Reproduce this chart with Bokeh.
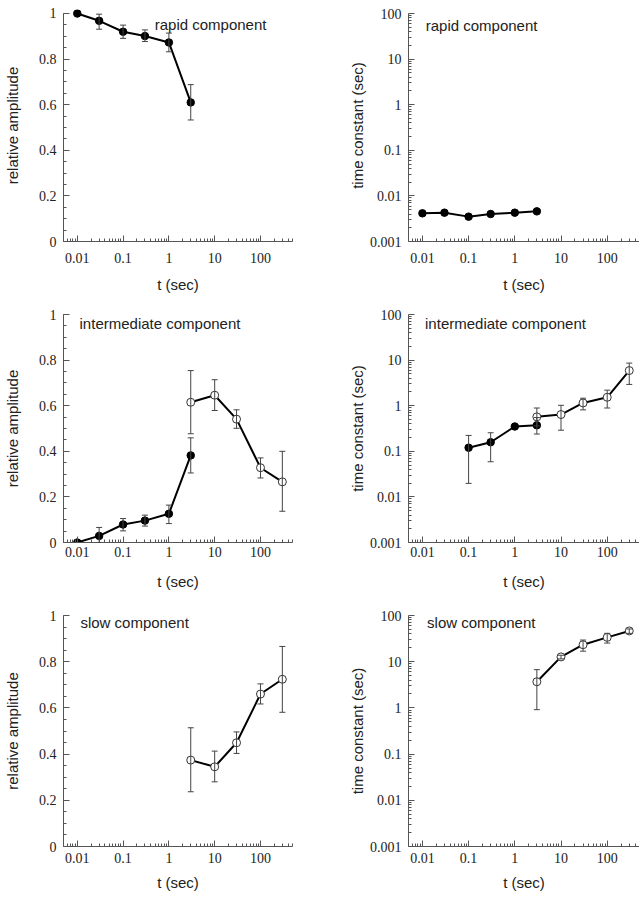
from bokeh.plotting import figure
from bokeh.models import (Range1d, FixedTicker, CustomJSTickFormatter, Whisker,
                          TeeHead, ColumnDataSource, Label)
from bokeh.layouts import column, row
from bokeh.embed import file_html
from bokeh.resources import INLINE

# ---------------- data ----------------
t_early = [0.01, 0.03, 0.1, 0.3, 1, 3]
t_late = [3, 10, 30, 100, 300]
t_int_tau = [0.1, 0.3, 1, 3]

# rapid component
rapid_amp = [1.0, 0.968, 0.920, 0.901, 0.873, 0.610]
rapid_amp_lo = [1.0, 0.931, 0.891, 0.877, 0.832, 0.533]
rapid_amp_hi = [1.0, 0.997, 0.949, 0.928, 0.914, 0.688]
rapid_tau = [0.00415, 0.00429, 0.00351, 0.00401, 0.00429, 0.00458]

# intermediate component
int_amp_closed = [0.0, 0.029, 0.079, 0.096, 0.126, 0.382]
int_amp_closed_lo = [0.0, 0.0, 0.051, 0.072, 0.083, 0.305]
int_amp_closed_hi = [0.0, 0.066, 0.105, 0.120, 0.164, 0.459]
int_amp_open = [0.615, 0.646, 0.541, 0.328, 0.266]
int_amp_open_lo = [0.477, 0.579, 0.501, 0.283, 0.137]
int_amp_open_hi = [0.754, 0.714, 0.582, 0.371, 0.400]
int_tau_closed = [0.12, 0.158, 0.35, 0.372]
int_tau_closed_lo = [0.0198, 0.059, 0.35, 0.239]
int_tau_closed_hi = [0.223, 0.255, 0.35, 0.55]
int_tau_open = [0.57, 0.64, 1.15, 1.53, 5.9]
int_tau_open_lo = [0.36, 0.29, 0.81, 0.89, 2.93]
int_tau_open_hi = [0.89, 1.02, 1.46, 2.19, 8.6]

# slow component
slow_amp = [0.374, 0.345, 0.449, 0.660, 0.724]
slow_amp_lo = [0.237, 0.280, 0.403, 0.617, 0.581]
slow_amp_hi = [0.514, 0.413, 0.496, 0.704, 0.866]
slow_tau = [3.68, 12.7, 23.3, 33.6, 46.3]
slow_tau_lo = [0.916, 11.5, 16.9, 25.3, 41.0]
slow_tau_hi = [6.73, 13.8, 29.4, 41.1, 51.2]

x_major = [0.01, 0.1, 1, 10, 100]
y_log_major = [0.001, 0.01, 0.1, 1, 10, 100]
y_lin_major = [0, 0.2, 0.4, 0.6, 0.8, 1]

AX = "#555555"
TXT = "#222222"

def log_minor(lo, hi):
    out = []
    d = 0.001
    while d < 1000:
        for k in range(2, 10):
            v = round(k * d, 6)
            if lo <= v <= hi:
                out.append(v)
        d *= 10
    return out

fmt = CustomJSTickFormatter(code="return String(Math.round(tick*10000)/10000);")

def make_fig(ylog, w, h, bl, br, bt, bb, xstand, xlstand, ylstand, ytop=None):
    if ylog:
        yr = Range1d(0.001, ytop if ytop else 100)
    else:
        yr = Range1d(0, ytop if ytop else 1)
    p = figure(width=w, height=h, x_axis_type="log",
               y_axis_type="log" if ylog else "linear",
               x_range=Range1d(0.005, 500), y_range=yr,
               output_backend="svg", toolbar_location=None,
               min_border_left=bl, min_border_right=br,
               min_border_top=bt, min_border_bottom=bb)
    p.outline_line_color = None
    p.grid.visible = False
    p.background_fill_color = "white"
    p.border_fill_color = "white"
    p.xaxis.ticker = FixedTicker(ticks=x_major, minor_ticks=log_minor(0.005, 500))
    if ylog:
        p.yaxis.ticker = FixedTicker(ticks=y_log_major, minor_ticks=log_minor(0.001, 100))
        p.yaxis.axis_label = "time constant (sec)"
        p.yaxis.bounds = (0.001, 100)
    else:
        p.yaxis.ticker = FixedTicker(ticks=y_lin_major,
                                     minor_ticks=[i * 0.05 for i in range(21)])
        p.yaxis.axis_label = "relative amplitude"
        p.yaxis.bounds = (0, 1)
    p.xaxis.axis_label = "t (sec)"
    for ax in p.xaxis + p.yaxis:
        ax.formatter = fmt
        ax.axis_line_color = AX
        ax.axis_line_width = 1
        ax.major_tick_in = 6
        ax.major_tick_out = 0
        ax.minor_tick_in = 3
        ax.minor_tick_out = 0
        ax.major_tick_line_color = AX
        ax.minor_tick_line_color = AX
        ax.major_label_text_font = "Liberation Serif"
        ax.major_label_text_font_size = "14px"
        ax.major_label_text_color = TXT
        ax.axis_label_text_font = "Liberation Sans"
        ax.axis_label_text_font_size = "15px"
        ax.axis_label_text_font_style = "normal"
        ax.axis_label_text_color = TXT
    p.xaxis.major_label_standoff = xstand
    p.xaxis.axis_label_standoff = xlstand
    p.yaxis.major_label_standoff = 7
    p.yaxis.axis_label_standoff = ylstand
    return p

def series(p, xs, ys, lo=None, hi=None, filled=True):
    p.line(xs, ys, line_color="black", line_width=2)
    if filled:
        p.scatter(xs, ys, size=7.5, fill_color="black", line_color="black")
    else:
        p.scatter(xs, ys, size=8, fill_color="white", line_color="#333333",
                  line_width=1)
    if lo is not None:
        bx, blo, bhi = [], [], []
        for x, l, h in zip(xs, lo, hi):
            if h > l:
                bx.append(x); blo.append(l); bhi.append(h)
        src = ColumnDataSource(dict(x=bx, lo=blo, hi=bhi))
        wk = Whisker(source=src, base="x", lower="lo", upper="hi",
                     dimension="height", line_color="#444444", line_width=1,
                     upper_head=TeeHead(size=6, line_color="#444444", line_width=1),
                     lower_head=TeeHead(size=6, line_color="#444444", line_width=1),
                     level="annotation")
        p.add_layout(wk)

def title(p, x, y, text):
    p.add_layout(Label(x=x, y=y, text=text, text_font="Liberation Sans",
                       text_font_size="15px", text_color=TXT,
                       text_baseline="middle", text_align="left"))

LW, RW = 320, 319
# row 1: frames start 4px above the top tick so the top marker is not clipped
p1 = make_fig(False, LW, 309, 61, 28, 9, 68, 11, 10, 15, ytop=1.0175)
series(p1, t_early, rapid_amp, rapid_amp_lo, rapid_amp_hi, True)
title(p1, 0.49, 0.952, "rapid component")

p2 = make_fig(True, RW, 309, 88, 0, 9, 68, 11, 10, 1, ytop=122.4)
series(p2, t_early, rapid_tau, None, None, True)
title(p2, 0.0118, 55, "rapid component")

# row 2
p3 = make_fig(False, LW, 301, 61, 28, 5, 68, 4, 13, 15)
series(p3, t_early, int_amp_closed, int_amp_closed_lo, int_amp_closed_hi, True)
series(p3, t_late, int_amp_open, int_amp_open_lo, int_amp_open_hi, False)
title(p3, 0.0112, 0.959, "intermediate component")

p4 = make_fig(True, RW, 301, 88, 0, 5, 68, 4, 13, 1)
series(p4, t_int_tau, int_tau_closed, int_tau_closed_lo, int_tau_closed_hi, True)
series(p4, t_late, int_tau_open, int_tau_open_lo, int_tau_open_hi, False)
title(p4, 0.0114, 64, "intermediate component")

# row 3
p5 = make_fig(False, LW, 287, 61, 28, 5, 51, 6, 8, 15)
series(p5, t_late, slow_amp, slow_amp_lo, slow_amp_hi, False)
title(p5, 0.0117, 0.968, "slow component")

p6 = make_fig(True, RW, 287, 88, 0, 5, 51, 6, 8, 1)
series(p6, t_late, slow_tau, slow_tau_lo, slow_tau_hi, False)
title(p6, 0.0126, 72, "slow component")

layout = column(row(p1, p2), row(p3, p4), row(p5, p6))

open("out.html", "w").write(file_html(layout, INLINE))
